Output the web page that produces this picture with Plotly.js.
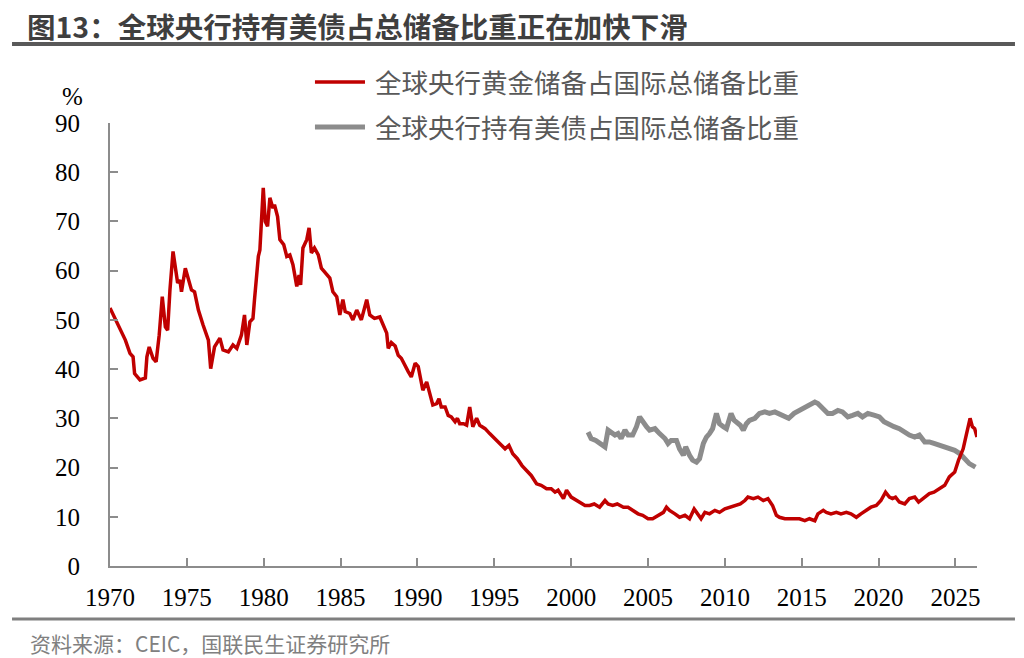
<!DOCTYPE html>
<html>
<head>
<meta charset="utf-8">
<script src="https://cdn.plot.ly/plotly-3.0.1.min.js"></script>
<style>html,body{margin:0;padding:0;background:#fff;}#chart{width:1024px;height:658px;}</style>
</head>
<body>
<div id="chart"></div>
<script>
// Gold share of global central-bank reserves (%)
const goldYears = [1970.0,1970.33,1970.65,1971.0,1971.3,1971.5,1971.6,1971.95,1972.3,1972.4,1972.55,1972.8,1973.0,1973.2,1973.4,1973.6,1973.75,1973.9,1974.1,1974.4,1974.55,1974.65,1974.9,1975.1,1975.3,1975.5,1975.75,1976.05,1976.4,1976.55,1976.8,1977.15,1977.35,1977.7,1978.0,1978.25,1978.55,1978.75,1978.9,1979.1,1979.3,1979.4,1979.65,1979.75,1979.97,1980.1,1980.25,1980.4,1980.6,1980.7,1980.9,1981.05,1981.3,1981.5,1981.7,1981.9,1982.15,1982.3,1982.4,1982.55,1982.8,1982.95,1983.1,1983.3,1983.55,1983.75,1984.0,1984.3,1984.5,1984.75,1984.95,1985.15,1985.3,1985.6,1985.8,1986.05,1986.35,1986.7,1986.9,1987.2,1987.55,1987.75,1988.0,1988.1,1988.3,1988.55,1988.75,1988.95,1989.2,1989.4,1989.6,1989.85,1990.05,1990.25,1990.35,1990.6,1990.8,1991.0,1991.25,1991.4,1991.55,1991.8,1992.0,1992.2,1992.45,1992.6,1992.75,1993.0,1993.2,1993.4,1993.6,1993.85,1994.05,1994.4,1994.7,1995.05,1995.35,1995.7,1995.95,1996.2,1996.5,1996.8,1997.1,1997.4,1997.75,1998.05,1998.4,1998.7,1998.95,1999.15,1999.5,1999.7,2000.0,2000.35,2000.55,2000.9,2001.2,2001.5,2001.85,2002.2,2002.4,2002.7,2003.0,2003.4,2003.7,2004.0,2004.35,2004.65,2005.0,2005.3,2005.65,2006.0,2006.2,2006.4,2006.75,2007.05,2007.4,2007.7,2008.0,2008.25,2008.45,2008.7,2009.0,2009.35,2009.65,2010.0,2010.3,2010.65,2011.0,2011.3,2011.5,2011.85,2012.15,2012.5,2012.8,2013.1,2013.35,2013.55,2013.9,2014.2,2014.55,2014.85,2015.2,2015.5,2015.85,2016.05,2016.4,2016.6,2016.9,2017.25,2017.55,2017.9,2018.2,2018.55,2018.85,2019.2,2019.5,2019.85,2020.15,2020.45,2020.7,2020.9,2021.1,2021.35,2021.7,2022.0,2022.35,2022.6,2023.0,2023.3,2023.6,2023.95,2024.3,2024.6,2024.95,2025.2,2025.5,2025.7,2025.95,2026.1,2026.25,2026.4];
const goldShare = [52.4,50.3,47.9,45.9,43.2,42.5,39.1,37.8,38.2,42.5,44.5,42.2,41.5,46.9,54.7,48.6,47.9,56.1,63.9,57.5,58.1,55.7,60.5,58.1,56.1,55.7,52.0,49.0,45.9,40.1,44.5,46.3,43.9,43.5,44.9,44.2,46.9,51.0,44.9,49.6,50.3,54.1,62.9,64.2,76.8,70.0,69.0,74.8,72.7,73.4,71.0,66.3,65.3,62.9,63.2,61.2,56.8,59.1,57.1,64.6,66.3,68.7,63.6,64.6,63.2,60.5,59.5,58.5,55.7,54.7,51.0,54.1,51.7,51.3,50.0,52.0,50.0,54.1,51.0,50.3,50.6,49.0,47.3,44.2,45.4,44.7,42.8,42.2,40.5,39.5,38.4,41.2,40.5,37.8,35.7,37.4,34.7,32.7,33.0,34.0,32.3,32.3,30.6,30.3,29.3,30.0,28.9,28.9,28.6,32.3,28.3,30.0,28.6,27.9,26.9,25.9,24.9,23.8,24.5,22.8,21.8,20.4,19.4,18.4,16.7,16.4,15.7,15.7,15.0,15.4,13.7,15.4,14.0,13.3,13.0,12.3,12.3,12.6,11.95,13.3,12.6,12.3,12.6,11.95,11.95,11.3,10.6,10.3,9.6,9.6,10.3,10.9,11.95,11.3,10.6,9.9,10.3,9.6,11.6,10.3,9.6,10.9,10.6,11.3,10.9,11.6,11.95,12.3,12.6,13.3,14.0,13.7,14.0,13.3,13.7,12.3,10.3,9.9,9.6,9.6,9.6,9.6,9.2,9.6,9.2,10.6,11.3,10.9,10.6,10.9,10.6,10.9,10.6,9.9,10.6,11.3,11.95,12.3,13.3,15.0,14.0,13.7,14.0,13.0,12.6,13.7,14.0,13.0,14.0,14.7,15.0,15.7,16.4,18.1,19.1,21.5,23.8,26.6,30.0,28.3,27.9,26.2];

// US Treasury holdings share of global central-bank reserves (%)
const ustYears = [2001.1,2001.3,2001.6,2001.95,2002.2,2002.4,2002.6,2002.85,2003.05,2003.25,2003.5,2003.7,2004.0,2004.25,2004.45,2004.65,2004.9,2005.1,2005.45,2005.75,2006.1,2006.3,2006.5,2006.85,2007.05,2007.3,2007.45,2007.7,2007.9,2008.15,2008.35,2008.6,2008.8,2009.0,2009.2,2009.45,2009.65,2009.9,2010.1,2010.4,2010.6,2011.0,2011.2,2011.4,2011.6,2011.95,2012.25,2012.6,2012.9,2013.25,2013.7,2014.15,2014.5,2014.85,2015.2,2015.5,2015.85,2016.05,2016.3,2016.5,2016.7,2017.0,2017.35,2017.65,2018.0,2018.3,2018.65,2018.95,2019.3,2019.75,2020.05,2020.35,2020.7,2021.0,2021.35,2021.7,2022.0,2022.35,2022.65,2023.0,2023.3,2023.6,2023.95,2024.3,2024.6,2024.95,2025.3,2025.6,2025.9,2026.3];
const ustShare = [27.2,25.9,25.5,24.9,24.2,27.6,27.2,26.6,26.9,25.9,27.6,26.6,26.6,28.3,30.3,29.3,28.3,27.6,27.9,26.9,25.9,24.9,25.5,25.5,23.8,22.5,24.2,22.5,21.5,21.1,21.8,24.9,26.2,26.9,27.9,31.0,28.9,28.3,27.9,31.0,29.6,28.6,27.6,28.9,29.6,30.0,31.0,31.3,31.0,31.3,30.6,30.0,31.0,31.6,32.0,32.7,33.3,33.0,32.3,31.6,31.0,31.0,31.6,31.3,30.3,30.6,31.0,30.3,31.0,30.6,30.3,29.3,28.6,28.3,27.9,27.2,26.6,26.2,26.6,25.2,25.2,24.9,24.5,24.2,23.8,23.5,22.8,21.8,20.8,20.1];

const tickYears = [1970,1975,1980,1985,1990,1995,2000,2005,2010,2015,2020,2025];
const tickLabels = tickYears.map(String);
const seriesNames = ['全球央行黄金储备占国际总储备比重','全球央行持有美债占国际总储备比重'];
const titleText = '图13：全球央行持有美债占总储备比重正在加快下滑';
const sourceText = '资料来源：CEIC，国联民生证券研究所';

const RED = '#C00000', GRAY = '#8C8C8C';

const traces = [
  {x: ustYears, y: ustShare, type: 'scatter', mode: 'lines', name: seriesNames[1],
   line: {color: GRAY, width: 5}, showlegend: false, hoverinfo: 'skip'},
  {x: goldYears, y: goldShare, type: 'scatter', mode: 'lines', name: seriesNames[0],
   line: {color: RED, width: 3.5}, showlegend: false, hoverinfo: 'skip'}
];

const axisFont = {family: 'Liberation Serif, Times New Roman, serif', size: 25, color: '#000'};
const cjk = 'Noto Sans CJK SC, sans-serif';

const layout = {
  width: 1024, height: 658,
  margin: {l: 110, r: 47, t: 123, b: 92},
  paper_bgcolor: '#fff', plot_bgcolor: '#fff',
  title: {text: titleText, x: 27/1024, xanchor: 'left', y: 1 - 28/658, yanchor: 'middle',
          font: {family: cjk, size: 28.5, weight: 'bold', color: '#3f3f3f'}},
  xaxis: {range: [1970, 2026.4], tickvals: tickYears, ticktext: tickLabels,
          ticks: 'inside', ticklen: 8, tickwidth: 2, tickcolor: '#8c8c8c',
          showline: true, linecolor: '#8c8c8c', linewidth: 2,
          showgrid: false, zeroline: false, tickfont: axisFont, ticklabelstandoff: 8},
  yaxis: {range: [0, 90], dtick: 10, tick0: 0,
          ticks: 'inside', ticklen: 8, tickwidth: 2, tickcolor: '#8c8c8c',
          showline: true, linecolor: '#8c8c8c', linewidth: 2,
          showgrid: false, zeroline: false, tickfont: axisFont, ticklabelstandoff: 23},
  shapes: [
    {type: 'line', xref: 'paper', yref: 'paper', x0: -0.113, x1: 1.0438, y0: 1.1783, y1: 1.1783,
     line: {color: '#595959', width: 4}},
    {type: 'line', xref: 'paper', yref: 'paper', x0: -0.113, x1: 1.0438, y0: -0.1196, y1: -0.1196,
     line: {color: '#7f7f7f', width: 3}},
    {type: 'line', xref: 'paper', yref: 'paper', x0: 0.2364, x1: 0.2941, y0: 1.0926, y1: 1.0926,
     line: {color: RED, width: 3.5}},
    {type: 'line', xref: 'paper', yref: 'paper', x0: 0.2364, x1: 0.2941, y0: 0.991, y1: 0.991,
     line: {color: GRAY, width: 5}}
  ],
  annotations: [
    {text: seriesNames[0], xref: 'paper', yref: 'paper', x: 0.3033, y: 1.0926, xanchor: 'left', yanchor: 'middle',
     showarrow: false, font: {family: cjk, size: 26.5, color: '#595959'}},
    {text: seriesNames[1], xref: 'paper', yref: 'paper', x: 0.3033, y: 0.991, xanchor: 'left', yanchor: 'middle',
     showarrow: false, font: {family: cjk, size: 26.5, color: '#595959'}},
    {text: '%', xref: 'paper', yref: 'paper', x: -0.0438, y: 1.0587, xanchor: 'center', yanchor: 'middle',
     showarrow: false, font: axisFont},
    {text: sourceText, xref: 'paper', yref: 'paper', x: -0.0946, y: -0.1738, xanchor: 'left', yanchor: 'middle',
     showarrow: false, font: {family: cjk, size: 21, color: '#808080'}}
  ]
};

Plotly.newPlot('chart', traces, layout, {staticPlot: true, displayModeBar: false});
</script>
</body>
</html>
